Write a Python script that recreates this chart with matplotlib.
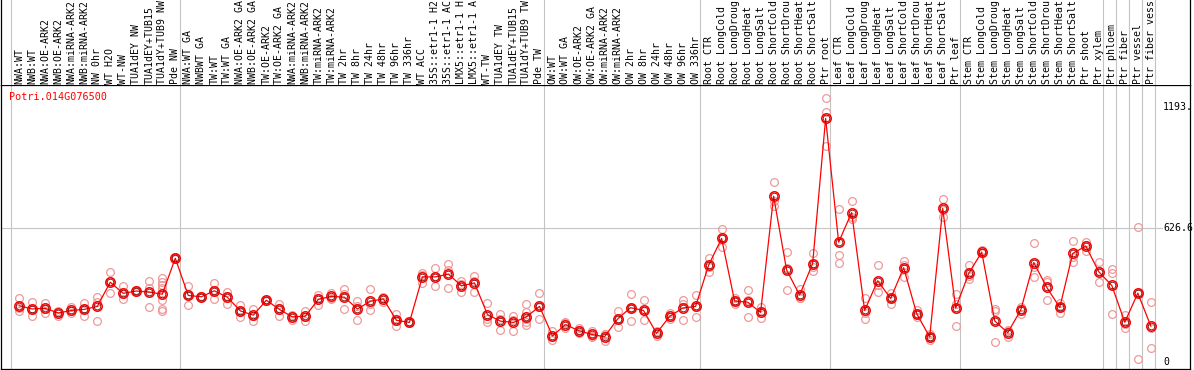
import matplotlib
matplotlib.use("Agg")
import matplotlib.pyplot as plt

title = "Potri.014G076500"

labels = [
    "NWA:WT", "NWB:WT", "NWA:OE-ARK2", "NWB:OE-ARK2", "NWA:miRNA-ARK2", "NWB:miRNA-ARK2",
    "NW 0hr", "WT H2O", "WT-NW", "TUA1dEY NW", "TUA1dEY+TUB15", "TUA1dY+TUB9 NW", "Pde NW",
    "NWA:WT GA", "NWBWT GA", "TW:WT", "TW:WT GA", "NWA:OE-ARK2 GA", "NWB:OE-ARK2 GA",
    "TW:OE-ARK2", "TW:OE-ARK2 GA", "NWA:miRNA-ARK2", "NWB:miRNA-ARK2", "TW:miRNA-ARK2",
    "TW:miRNA-ARK2", "TW 2hr", "TW 8hr", "TW 24hr", "TW 48hr", "TW 96hr", "TW 336hr",
    "WT ACC", "35S::etr1-1 H2", "35S::etr1-1 AC", "LMX5::etr1-1 H", "LMX5::etr1-1 A",
    "WT-TW", "TUA1dEY TW", "TUA1dEY+TUB15", "TUA1dY+TUB9 TW", "Pde TW",
    "OW:WT", "OW:WT GA", "OW:OE-ARK2", "OW:OE-ARK2 GA", "OW:miRNA-ARK2", "OW:miRNA-ARK2",
    "OW 2hr", "OW 8hr", "OW 24hr", "OW 48hr", "OW 96hr", "OW 336hr",
    "Root CTR", "Root LongCold", "Root LongDroug", "Root LongHeat", "Root LongSalt",
    "Root ShortCold", "Root ShortDrou", "Root ShortHeat", "Root ShortSalt", "Ptr root",
    "Leaf CTR", "Leaf LongCold", "Leaf LongDroug", "Leaf LongHeat", "Leaf LongSalt",
    "Leaf ShortCold", "Leaf ShortDrou", "Leaf ShortHeat", "Leaf ShortSalt", "Ptr leaf",
    "Stem CTR", "Stem LongCold", "Stem LongDroug", "Stem LongHeat", "Stem LongSalt",
    "Stem ShortCold", "Stem ShortDrou", "Stem ShortHeat", "Stem ShortSalt", "Ptr shoot",
    "Ptr xylem", "Ptr phloem", "Ptr fiber", "Ptr vessel", "Ptr fiber vess",
]

means = [
    263, 248, 251, 229, 241, 246, 260, 373, 321, 332, 327, 317, 485,
    311, 305, 333, 303, 239, 219, 289, 246, 211, 214, 293, 307, 303, 248, 284, 295,
    195, 185, 398, 398, 411, 356, 370, 222, 191, 185, 211, 260,
    122, 175, 147, 129, 118, 201, 254, 241, 134, 213, 252, 260,
    452, 578, 285, 280, 232, 775, 430, 313, 460, 1139,
    560, 699, 241, 380, 297, 441, 226, 117, 718, 252,
    414, 514, 192, 137, 243, 465, 349, 255, 508, 542, 422,
    358, 186, 322, 168,
]

replicates = [
    [298, 251, 240], [279, 248, 217], [277, 246, 230], [239, 233, 215], [258, 238, 227],
    [276, 247, 215], [304, 282, 193], [419, 379, 321], [354, 316, 293], [335, 332, 329],
    [379, 345, 257], [394, 375, 360, 345, 289, 250, 237], [490, 485, 480],
    [356, 311, 266], [308, 305, 302], [368, 338, 293], [327, 309, 273], [267, 240, 210],
    [248, 216, 193], [292, 289, 286], [271, 251, 216], [220, 216, 197], [240, 211, 191],
    [313, 300, 266], [324, 301, 296], [341, 320, 248], [286, 263, 195], [341, 269, 242],
    [305, 298, 282], [224, 191, 170], [188, 185, 182], [414, 409, 371], [438, 402, 354],
    [457, 432, 344], [379, 365, 325], [402, 379, 329], [276, 202, 188], [224, 201, 148],
    [215, 195, 145], [271, 233, 200, 185, 173], [321, 258, 201],
    [145, 119, 102], [187, 181, 157], [159, 148, 134], [147, 123, 118], [131, 124, 100],
    [238, 203, 162], [318, 254, 190], [290, 238, 195], [138, 143, 121], [227, 203, 209],
    [290, 270, 197], [313, 258, 209],
    [487, 446, 423], [620, 578, 536], [299, 285, 271], [339, 292, 209], [255, 237, 204],
    [840, 755, 730], [513, 441, 336], [343, 299, 297], [508, 446, 426], [1233, 1168, 1012],
    [715, 500, 463], [751, 670, 676], [297, 227, 199], [454, 360, 326], [321, 301, 269],
    [472, 452, 399], [243, 226, 209], [131, 117, 103], [762, 713, 679], [318, 270, 168],
    [453, 403, 386], [524, 510, 508], [237, 247, 92], [150, 143, 118], [259, 247, 223],
    [555, 444, 396], [383, 374, 290], [277, 258, 230], [564, 491, 469], [561, 545, 520],
    [469, 425, 372],
    [433, 414, 223], [220, 180, 158], [630, 322, 14], [280, 158, 66],
]

group_starts = [0, 13, 41, 53, 63, 73, 84, 85, 86, 87, 88]
ytick_values = [1193, 626.6, 0]
ytick_texts = ["1193.", "626.6", "0"]
grid_value = 626.6

# ---- layout (pixels) ----
W, H = 1194, 370
L, R, T, B = 1, 1190, 85, 369
x0, dx = 19.2, 13.007          # pixel of first column centre, column spacing
y0px, pxu = 362, 0.21385       # pixel of value 0, pixels per unit

fig = plt.figure(figsize=(W / 100, H / 100), dpi=100)
ax = fig.add_axes([L / W, 1 - B / H, (R - L) / W, (B - T) / H])
lab = fig.add_axes([L / W, 1 - T / H, (R - L) / W, T / H], sharex=ax)

ax.set_xlim((L - x0) / dx, (R - x0) / dx)
ax.set_ylim((y0px - B) / pxu, (y0px - T) / pxu)
lab.set_ylim(0, T)

mono = "DejaVu Sans Mono"
grey = "#c4c4c4"

for a in (ax, lab):
    a.set_xticks([])
    a.set_yticks([])
    for s in a.spines.values():
        s.set_color("black")
        s.set_linewidth(0.9)
lab.spines["top"].set_visible(False)
lab.spines["bottom"].set_visible(False)

# group separators
for g in group_starts:
    xs = g - 0.65
    ax.axvline(xs, color=grey, lw=0.8, zorder=1)
    lab.axvline(xs, color=grey, lw=0.8, zorder=1)

# horizontal grid line
ax.axhline(grid_value, xmin=0, xmax=(1162 - L) / (R - L), color=grey, lw=0.8, zorder=1)

# replicate points
for i, reps in enumerate(replicates):
    ax.plot([i] * len(reps), reps, linestyle="none", marker="o", ms=5.6,
            mfc="none", mec="#ee9a9a", mew=0.9, zorder=2)

xs = list(range(len(means)))
ax.plot(xs, means, color="red", lw=0.9, zorder=3)
ax.plot(xs, means, linestyle="none", marker="o", ms=6.8, mfc="none",
        mec="red", mew=1.1, zorder=4)
ax.plot(xs, means, linestyle="none", marker="o", ms=4.8, mfc="none",
        mec="#7a0000", mew=0.6, zorder=5)

# sample labels
for i, t in enumerate(labels):
    lab.text(i, 1.5, t, rotation=90, ha="center", va="bottom",
             fontsize=7.1, family=mono, color="black", clip_on=False)

# right value labels
for v, t in zip(ytick_values, ytick_texts):
    ax.text((1163 - x0) / dx, v, t, ha="left", va="center",
            fontsize=7.1, family=mono, color="black")

# gene title
ax.text((9 - L) / (R - L), 1 - (97 - T) / (B - T), title, transform=ax.transAxes,
        ha="left", va="center", fontsize=7.3, family=mono, color="red")

fig.savefig("out.png", dpi=100)
